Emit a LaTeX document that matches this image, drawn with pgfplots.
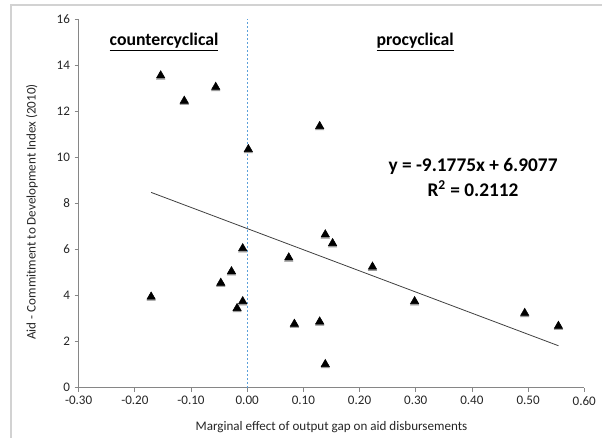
\documentclass[border=0pt]{standalone}
\usepackage{pgfplots}
\pgfplotsset{compat=1.18}
\usepackage{fontspec}
\setmainfont{Carlito}
\definecolor{axisgray}{RGB}{134,134,134}
\definecolor{zeroblue}{RGB}{91,160,218}
\definecolor{framegray}{RGB}{210,210,210}
\definecolor{trendgray}{RGB}{64,64,64}

% aid commitment vs marginal effect of output gap
\pgfplotstableread{
x y
-0.154 13.55
-0.112 12.45
-0.056 13.05
0.002 10.35
0.129 11.35
-0.008 6.05
0.074 5.65
-0.028 5.05
-0.047 4.55
-0.171 3.95
-0.008 3.75
-0.018 3.45
0.084 2.77
0.129 2.87
0.139 1.02
0.139 6.65
0.152 6.27
0.223 5.25
0.298 3.75
0.494 3.24
0.554 2.68
}\aiddata

\begin{document}
\begin{tikzpicture}
\path[use as bounding box] (0,0) rectangle (451.5pt,328.5pt);
\draw[framegray, line width=1pt] (8.25pt,0) -- (8.25pt,324.75pt) -- (451.5pt,324.75pt);
\begin{axis}[
  at={(59pt,37.7pt)}, anchor=south west,
  scale only axis, width=379.2pt, height=276.5pt,
  xmin=-0.3, xmax=0.6, ymin=0, ymax=16,
  xtick={-0.3,-0.2,-0.1,0,0.1,0.2,0.3,0.4,0.5,0.6},
  ytick={0,2,4,6,8,10,12,14,16},
  axis x line*=bottom, axis y line*=left,
  axis line style={axisgray, line width=0.6pt, -},
  tick align=outside, major tick length=3pt,
  tick style={axisgray, line width=0.6pt},
  tick label style={font=\fontsize{9.8}{11}\selectfont, text=black!85},
  /pgf/number format/assume math mode=true,
  xticklabel={\pgfmathprintnumber[fixed,fixed zerofill,precision=2]{\tick}},
  xlabel={Marginal effect of output gap on aid disbursements},
  ylabel={Aid - Commitment to Development Index (2010)},
  label style={font=\fontsize{9.8}{11}\selectfont, text=black!85},
  x label style={at={(axis description cs:0.5,-0.106)}, anchor=center},
  y label style={at={(axis description cs:-0.0923,0.477)}, anchor=center},
  clip=false,
]
  % zero line between the two regimes
  \addplot[zeroblue, line width=1pt, dash pattern=on 1.5pt off 1.5pt]
    coordinates {(0,0) (0,16)};
  % linear trend
  \addplot[trendgray, line width=0.6pt] coordinates {(-0.171,8.477) (0.554,1.823)};
  % marker shadow, then markers
  \addplot[only marks, mark=triangle*, mark size=3.6pt, gray!80,
    mark options={yshift=-1pt}] table {\aiddata};
  \addplot[only marks, mark=triangle*, mark size=3.6pt, black] table {\aiddata};

  \node[font=\fontsize{13.3}{15}\selectfont\bfseries] at (axis cs:-0.148,15.0)
    {\underline{countercyclical}};
  \node[font=\fontsize{13.3}{15}\selectfont\bfseries] at (axis cs:0.299,15.0)
    {\underline{procyclical}};
  \node[font=\fontsize{14.5}{18.75}\selectfont\bfseries, align=center]
    at (axis cs:0.402,9.13) {y = -9.1775x + 6.9077\\R\textsuperscript{2} = 0.2112};
\end{axis}
\end{tikzpicture}
\end{document}
